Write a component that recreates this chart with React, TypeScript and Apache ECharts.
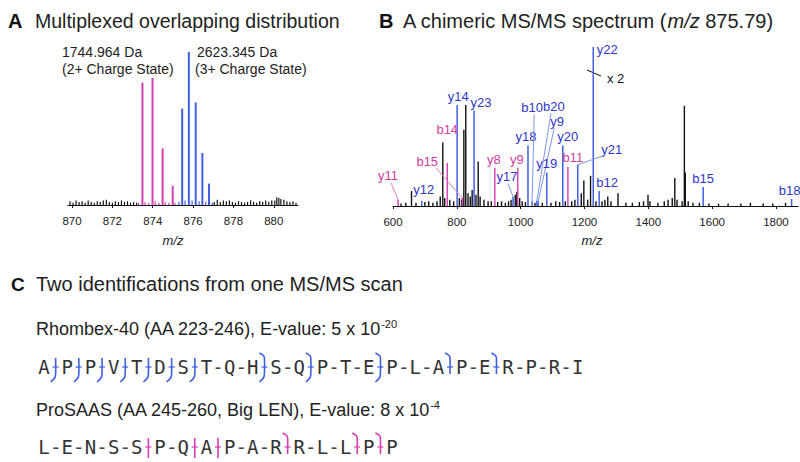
import React, { useEffect, useRef } from "react";
import * as echarts from "echarts";

const FONT = '"Liberation Sans", Arial, Helvetica, sans-serif';
const MONO = '"DejaVu Sans Mono", "Liberation Mono", monospace';
const BLACK = "#111111";
const BLUE = "#3f5fe0";
const MAGENTA = "#d63db2";
const BLUE_TEXT = "#2e36c8";
const MAGENTA_TEXT = "#d23c9c";
const BLUE_LEAD = "#7f95e6";
const MAGENTA_LEAD = "#e27cc4";

// ---------------- Panel A: isotope distributions ----------------
const aTickValues = [870, 872, 874, 876, 878, 880];
const aMagentaMz = [873.49, 873.99, 874.49, 874.99];
const aMagentaInt = [80, 83, 37, 12.5];
const aBlueMz = [875.46, 875.79, 876.13, 876.46, 876.79];
const aBlueInt = [63, 100, 67, 34, 14];
const aMagentaNoiseMz = [873.3, 873.62, 873.8, 874.12, 874.3, 874.62, 874.8, 875.1];
const aMagentaNoiseInt = [1.5, 2, 1.5, 2.5, 1.5, 2, 1.5, 1.5];
const aBlueNoiseMz = [875.3, 875.6, 875.95, 876.3, 876.62, 876.95];
const aBlueNoiseInt = [2, 3, 3, 2.5, 2, 1.5];
const aNoiseMz = [
  869.9, 870.05, 870.2, 870.35, 870.5, 870.65, 870.8, 870.95, 871.1, 871.25, 871.4, 871.55,
  871.7, 871.85, 872.0, 872.15, 872.3, 872.45, 872.6, 872.75, 872.9, 873.05, 873.2,
  877.05, 877.2, 877.35, 877.5, 877.65, 877.8, 877.95, 878.1, 878.25, 878.4, 878.55, 878.7,
  878.85, 879.0, 879.15, 879.3, 879.45, 879.6, 879.75, 879.9,
  880.05, 880.15, 880.25, 880.35, 880.5, 880.65, 880.8, 880.95, 881.1,
];
const aNoiseInt = [
  2.5, 1.5, 3, 2, 2.5, 1.5, 3, 2, 1.5, 2.5, 2, 3,
  3.5, 2, 1.5, 2.5, 2, 3, 2, 2.5, 1.5, 2, 1.5,
  2, 3.5, 2, 3, 2.5, 3, 2, 1.5, 2.5, 2, 1.5, 2,
  3, 2, 1.5, 2.5, 2, 3, 2, 3,
  3, 5, 4.5, 4, 3.5, 2.5, 2, 2.5, 1.5,
];

// ---------------- Panel B: chimeric MS/MS spectrum ----------------
const bTickValues = [600, 800, 1000, 1200, 1400, 1600, 1800];
const bBlueLabels = ["y12", "y14", "y23", "y17", "y18", "b10", "b20", "y9", "y19", "y20", "y21", "y22", "b12", "b15", "b18"];
const bBlueMz = [690, 801, 854, 976, 1023, 1036, 1051, 1055, 1082, 1132, 1179, 1227.5, 1246, 1572, 1849];
const bBlueInt = [3.2, 63.5, 60, 6, 38, 3, 3.5, 3, 21, 38, 26, 100, 9.5, 12, 4.4];
const bMagentaLabels = ["y11", "b14", "b15", "y8", "y9", "b11"];
const bMagentaMz = [616, 770, 817, 919, 991, 1148];
const bMagentaInt = [3.8, 27, 5, 24, 24, 24.5];
const bBlackMz = [
  625, 640, 658, 672, 700, 712, 725, 738, 748, 756, 762, 778, 790, 808, 815, 822, 828, 835,
  842, 848, 860, 867, 873, 885, 898, 908, 928, 940, 952, 962, 970, 983, 988, 997, 1005, 1015,
  1045, 1068, 1095, 1110, 1122, 1140, 1160, 1170, 1190, 1198, 1210, 1219, 1236, 1255, 1264,
  1273, 1283, 1305, 1330, 1350, 1372, 1385, 1399, 1405, 1430, 1450, 1462, 1475, 1483, 1490,
  1506, 1513, 1516, 1525, 1540, 1560, 1590, 1620, 1650, 1690, 1720, 1760, 1790, 1830,
];
const bBlackInt = [
  1.5, 2, 9.4, 2, 2.5, 3, 2, 3, 6, 40, 5, 4, 3, 5, 4, 48, 63.5, 8,
  6, 10, 7, 28, 6, 4, 3, 3, 2.5, 3, 2, 3, 4, 7, 9, 5, 3, 2.5,
  2, 2, 2, 3, 2.5, 3, 3, 4, 8, 16, 4, 19, 3, 3, 4,
  6, 3, 8, 2, 2, 2.5, 3, 7, 3, 2, 3, 4, 5, 17.6, 4,
  3, 63, 21, 3, 2, 2, 1.5, 1.5, 1.5, 1.5, 2, 1.5, 1.5, 2,
];

// label placement (pixels relative to the peak top) and leader-line start (relative to label)
const bBlueLabelOffset = [[2, -11], [1, -9], [7, -8], [-6, -20], [-2, -9], [0, -94], [17, -94], [19, -80], [0, -9], [5, -9], [34, -15], [14, 2], [8, -8], [0, -8], [-2, -9]];
const bBlueLeader = [null, null, null, [1, 7], null, [2, 7], [-3, 7], [-3, 7], null, null, [-8, 6], null, null, null, null];
const bMagentaLabelOffset = [[-10, -24], [0, -34], [-35, -37], [-1, -8], [-1, -8], [5, -10]];
const bMagentaLeader = [[3, 7], null, [9, 7], null, null, null];

// ---------------- Panel C: sequences ----------------
const rhombexSeq = ["A", "P", "P", "V", "T", "D", "S", "T", "Q", "H", "S", "Q", "P", "T", "E", "P", "L", "A", "P", "E", "R", "P", "R", "I"];
const rhombexCuts = ["low", "low", "low", "low", "low", "low", "low", "-", "-", "both", "-", "both", "-", "-", "both", "-", "-", "high", "-", "high", "-", "-", "-"];
const prosaasSeq = ["L", "E", "N", "S", "S", "P", "Q", "A", "P", "A", "R", "R", "L", "L", "P", "P"];
const prosaasCuts = ["-", "-", "-", "-", "bar", "-", "bar", "bar", "-", "-", "high", "-", "-", "high", "high"];

function stickSeries(xi: number, mz: number[], ints: number[], color: string, width: number) {
  return {
    type: "custom",
    xAxisIndex: xi,
    yAxisIndex: xi,
    silent: true,
    clip: false,
    data: mz.map((m, i) => [m, ints[i]]),
    renderItem: (_p: any, api: any) => {
      const p0 = api.coord([api.value(0), 0]);
      const p1 = api.coord([api.value(0), api.value(1)]);
      return {
        type: "line",
        shape: { x1: p0[0], y1: p0[1], x2: p1[0], y2: p1[1] },
        style: { stroke: color, lineWidth: width },
      };
    },
  };
}

function labelSeries(mz: number[], ints: number[], labels: string[], offs: number[][], leads: (number[] | null)[], textColor: string, leadColor: string) {
  return {
    type: "custom",
    xAxisIndex: 1,
    yAxisIndex: 1,
    silent: true,
    clip: false,
    z: 5,
    data: mz.map((m, i) => [m, ints[i]]),
    renderItem: (params: any, api: any) => {
      const i = params.dataIndex;
      const top = api.coord([api.value(0), api.value(1)]);
      const lx = top[0] + offs[i][0];
      const ly = top[1] + offs[i][1];
      const children: any[] = [
        {
          type: "text",
          x: lx,
          y: ly,
          style: { text: labels[i], fill: textColor, font: `13px ${FONT}`, align: "center", verticalAlign: "middle" },
        },
      ];
      const ld = leads[i];
      if (ld) {
        children.push({
          type: "line",
          shape: { x1: lx + ld[0], y1: ly + ld[1], x2: top[0], y2: top[1] },
          style: { stroke: leadColor, lineWidth: 1 },
        });
      }
      return { type: "group", children };
    },
  };
}

function axisStyle(ticks: number[]) {
  return {
    axisLine: { show: true, onZero: false, lineStyle: { color: BLACK, width: 1 } },
    axisTick: { show: true, customValues: ticks, length: 3, lineStyle: { color: BLACK } },
    axisLabel: {
      customValues: ticks,
      fontSize: 11.5,
      color: "#222",
      fontFamily: FONT,
      margin: 10,
      formatter: (v: number) => String(v),
    },
    splitLine: { show: false },
  };
}

function cutMarker(kind: string, x: number, cy: number, color: string): any[] {
  if (kind === "-") {
    return [{
      type: "text", x, y: cy,
      style: { text: "-", font: `19px ${MONO}`, fill: "#444", align: "center", verticalAlign: "middle" },
    }];
  }
  const top = cy - 9;
  const bot = cy + 7;
  const pts: number[][] = [];
  if (kind === "high" || kind === "both") pts.push([x - 5, top - 5], [x - 1, top - 2.5], [x, top]);
  else pts.push([x, top]);
  if (kind === "low" || kind === "both") pts.push([x, bot], [x - 1, bot + 4], [x - 5, bot + 8]);
  else pts.push([x, kind === "bar" ? bot + 4 : bot]);
  return [
    { type: "polyline", shape: { points: pts, smooth: 0.3 }, style: { stroke: color, lineWidth: 1.6, fill: "none" } },
    { type: "line", shape: { x1: x - 3, y1: cy, x2: x + 3, y2: cy }, style: { stroke: color, lineWidth: 1.2 } },
  ];
}

function sequenceRow(seq: string[], cuts: string[], x0: number, step: number, cy: number, color: string): any[] {
  const els: any[] = [];
  seq.forEach((r, i) => {
    els.push({
      type: "text", x: x0 + i * step, y: cy,
      style: { text: r, font: `19px ${MONO}`, fill: "#333", align: "center", verticalAlign: "middle" },
    });
  });
  cuts.forEach((c, i) => {
    els.push(...cutMarker(c, x0 + (i + 0.5) * step, cy, color));
  });
  return els;
}

export default function App() {
  const ref = useRef<HTMLDivElement>(null);
  useEffect(() => {
    document.body.style.margin = "0";
    if (!ref.current) return;
    const chart = echarts.init(ref.current, undefined, { renderer: "svg" });

    const txt = (x: number, y: number, text: string, font: string, fill = "#222", align = "left") => ({
      type: "text", x, y,
      style: { text, font, fill, align, verticalAlign: "middle" },
    });

    const graphic: any[] = [
      // Panel titles
      txt(8, 21, "A", `bold 20px ${FONT}`, "#111"),
      txt(35, 21, "Multiplexed overlapping distribution", `19.5px ${FONT}`),
      txt(379, 21, "B", `bold 20px ${FONT}`, "#111"),
      {
        type: "text", x: 403, y: 21,
        style: {
          text: "{n|A chimeric MS/MS spectrum (}{i|m/z}{n| 875.79)}",
          verticalAlign: "middle",
          rich: {
            n: { font: `20px ${FONT}`, fill: "#222" },
            i: { font: `italic 20px ${FONT}`, fill: "#222" },
          },
        },
      },
      // Panel A annotations
      txt(62, 52, "1744.964 Da", `14px ${FONT}`),
      txt(62, 69, "(2+ Charge State)", `14px ${FONT}`),
      txt(197, 52, "2623.345 Da", `14px ${FONT}`),
      txt(195, 69, "(3+ Charge State)", `14px ${FONT}`),
      txt(173, 240, "m/z", `italic 13px ${FONT}`, "#222", "center"),
      // Panel B annotations
      txt(592, 240, "m/z", `italic 13px ${FONT}`, "#222", "center"),
      txt(607, 78, "x 2", `13px ${FONT}`, "#111"),
      { type: "line", shape: { x1: 587, y1: 70, x2: 601, y2: 76 }, style: { stroke: "#111", lineWidth: 1 } },
      // Panel C
      txt(11, 284, "C", `bold 19px ${FONT}`, "#111"),
      txt(36, 284, "Two identifications from one MS/MS scan", `20px ${FONT}`),
      {
        type: "text", x: 36, y: 329,
        style: {
          text: "{n|Rhombex-40 (AA 223-246), E-value: 5 x 10}{s|-20}",
          verticalAlign: "middle",
          rich: {
            n: { font: `18px ${FONT}`, fill: "#222", lineHeight: 22 },
            s: { font: `11px ${FONT}`, fill: "#222", lineHeight: 11, verticalAlign: "top" },
          },
        },
      },
      ...sequenceRow(rhombexSeq, rhombexCuts, 44, 23.2, 367, BLUE),
      {
        type: "text", x: 36, y: 410,
        style: {
          text: "{n|ProSAAS (AA 245-260, Big LEN), E-value: 8 x 10}{s|-4}",
          verticalAlign: "middle",
          rich: {
            n: { font: `18px ${FONT}`, fill: "#222", lineHeight: 22 },
            s: { font: `11px ${FONT}`, fill: "#222", lineHeight: 11, verticalAlign: "top" },
          },
        },
      },
      ...sequenceRow(prosaasSeq, prosaasCuts, 44, 23.2, 447, MAGENTA),
    ];

    chart.setOption({
      animation: false,
      backgroundColor: "#ffffff",
      grid: [
        { left: 68, top: 52, width: 230, height: 153 },
        { left: 393, top: 47, width: 405.3, height: 159 },
      ],
      xAxis: [
        { gridIndex: 0, type: "value", min: 869.8, max: 881.2, ...axisStyle(aTickValues) },
        { gridIndex: 1, type: "value", min: 600, max: 1870, ...axisStyle(bTickValues) },
      ],
      yAxis: [
        { gridIndex: 0, type: "value", min: 0, max: 100, show: false },
        { gridIndex: 1, type: "value", min: 0, max: 100, show: false },
      ],
      series: [
        stickSeries(0, aNoiseMz, aNoiseInt, BLACK, 1.2),
        stickSeries(0, aMagentaNoiseMz, aMagentaNoiseInt, MAGENTA, 1.2),
        stickSeries(0, aBlueNoiseMz, aBlueNoiseInt, BLUE, 1.2),
        stickSeries(0, aMagentaMz, aMagentaInt, MAGENTA, 2),
        stickSeries(0, aBlueMz, aBlueInt, BLUE, 2),
        stickSeries(1, bBlackMz, bBlackInt, BLACK, 1.4),
        stickSeries(1, bMagentaMz, bMagentaInt, MAGENTA, 1.4),
        stickSeries(1, bBlueMz, bBlueInt, BLUE, 1.5),
        labelSeries(bBlueMz, bBlueInt, bBlueLabels, bBlueLabelOffset, bBlueLeader, BLUE_TEXT, BLUE_LEAD),
        labelSeries(bMagentaMz, bMagentaInt, bMagentaLabels, bMagentaLabelOffset, bMagentaLeader, MAGENTA_TEXT, MAGENTA_LEAD),
      ],
      graphic,
    });
    return () => chart.dispose();
  }, []);
  return <div ref={ref} style={{ width: 800, height: 462 }} />;
}
